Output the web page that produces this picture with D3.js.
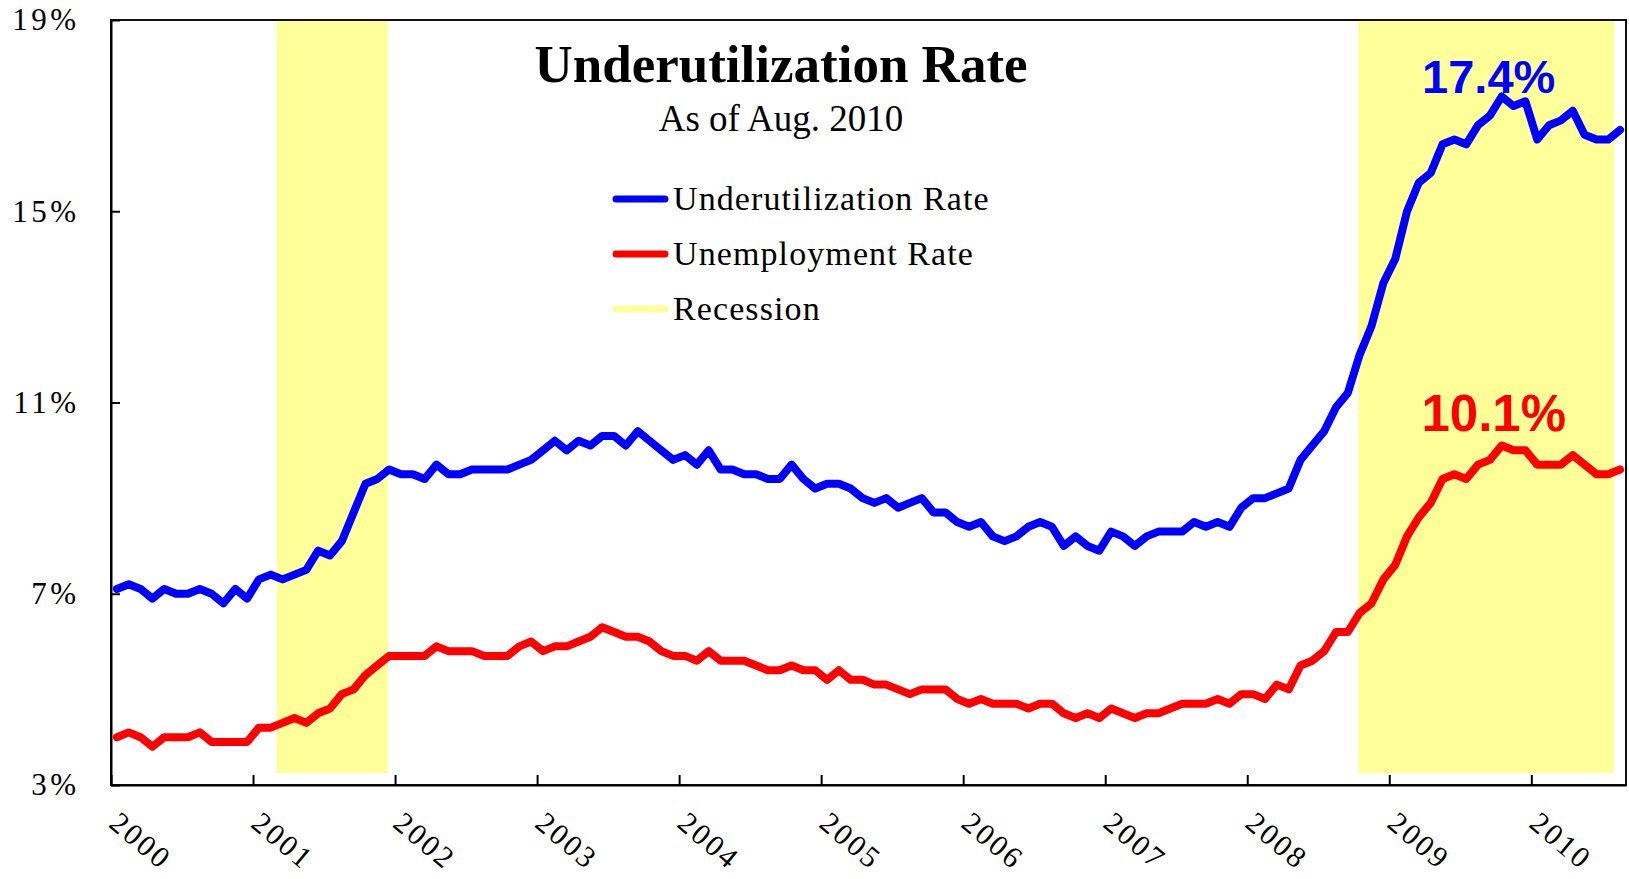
<!DOCTYPE html>
<html>
<head>
<meta charset="utf-8">
<script src="https://cdn.jsdelivr.net/npm/d3@7"></script>
<style>
  body { margin: 0; background: #fff; }
  svg { display: block; }
</style>
</head>
<body>
<div id="container"></div>
<script>
// monthly values, Jan 2000 .. Aug 2010
const underutilization = [
  7.1, 7.2, 7.1, 6.9, 7.1, 7.0, 7.0, 7.1, 7.0, 6.8, 7.1, 6.9,
  7.3, 7.4, 7.3, 7.4, 7.5, 7.9, 7.8, 8.1, 8.7, 9.3, 9.4, 9.6,
  9.5, 9.5, 9.4, 9.7, 9.5, 9.5, 9.6, 9.6, 9.6, 9.6, 9.7, 9.8,
  10.0, 10.2, 10.0, 10.2, 10.1, 10.3, 10.3, 10.1, 10.4, 10.2, 10.0, 9.8,
  9.9, 9.7, 10.0, 9.6, 9.6, 9.5, 9.5, 9.4, 9.4, 9.7, 9.4, 9.2,
  9.3, 9.3, 9.2, 9.0, 8.9, 9.0, 8.8, 8.9, 9.0, 8.7, 8.7, 8.5,
  8.4, 8.5, 8.2, 8.1, 8.2, 8.4, 8.5, 8.4, 8.0, 8.2, 8.0, 7.9,
  8.3, 8.2, 8.0, 8.2, 8.3, 8.3, 8.3, 8.5, 8.4, 8.5, 8.4, 8.8,
  9.0, 9.0, 9.1, 9.2, 9.8, 10.1, 10.4, 10.9, 11.2, 12.0, 12.6, 13.5,
  14.0, 15.0, 15.6, 15.8, 16.4, 16.5, 16.4, 16.8, 17.0, 17.4, 17.2, 17.3,
  16.5, 16.8, 16.9, 17.1, 16.6, 16.5, 16.5, 16.7
];

const unemployment = [
  4.0, 4.1, 4.0, 3.8, 4.0, 4.0, 4.0, 4.1, 3.9, 3.9, 3.9, 3.9,
  4.2, 4.2, 4.3, 4.4, 4.3, 4.5, 4.6, 4.9, 5.0, 5.3, 5.5, 5.7,
  5.7, 5.7, 5.7, 5.9, 5.8, 5.8, 5.8, 5.7, 5.7, 5.7, 5.9, 6.0,
  5.8, 5.9, 5.9, 6.0, 6.1, 6.3, 6.2, 6.1, 6.1, 6.0, 5.8, 5.7,
  5.7, 5.6, 5.8, 5.6, 5.6, 5.6, 5.5, 5.4, 5.4, 5.5, 5.4, 5.4,
  5.2, 5.4, 5.2, 5.2, 5.1, 5.1, 5.0, 4.9, 5.0, 5.0, 5.0, 4.8,
  4.7, 4.8, 4.7, 4.7, 4.7, 4.6, 4.7, 4.7, 4.5, 4.4, 4.5, 4.4,
  4.6, 4.5, 4.4, 4.5, 4.5, 4.6, 4.7, 4.7, 4.7, 4.8, 4.7, 4.9,
  4.9, 4.8, 5.1, 5.0, 5.5, 5.6, 5.8, 6.2, 6.2, 6.6, 6.8, 7.3,
  7.6, 8.2, 8.6, 8.9, 9.4, 9.5, 9.4, 9.7, 9.8, 10.1, 10.0, 10.0,
  9.7, 9.7, 9.7, 9.9, 9.7, 9.5, 9.5, 9.6
];

// recession bands in months from Jan 2000
const recessionStart = [14, 105.4];
const recessionEnd = [23.4, 127];
const recessionFloor = 3.25;

const yearLabels = ["2000", "2001", "2002", "2003", "2004", "2005",
                    "2006", "2007", "2008", "2009", "2010"];
const yTicks = [3, 7, 11, 15, 19];

const seriesNames = ["Underutilization Rate", "Unemployment Rate", "Recession"];
const seriesColors = ["#0000ff", "#ff0000", "#ffff99"];

const serif = "'Liberation Serif', 'Times New Roman', serif";
const sans = "'Liberation Sans', Arial, sans-serif";

const W = 1629, H = 879;
const plot = { left: 111, right: 1626, top: 20, bottom: 785 };

const svg = d3.select("#container").append("svg")
  .attr("width", W)
  .attr("height", H);

const x = d3.scaleLinear().domain([0, 128]).range([plot.left, plot.right]);
const y = d3.scaleLinear().domain([3, 19]).range([plot.bottom, plot.top]);

// recession shading
svg.append("g").selectAll("rect")
  .data(d3.range(recessionStart.length))
  .join("rect")
  .attr("x", i => x(recessionStart[i]))
  .attr("y", y(19))
  .attr("width", i => x(recessionEnd[i]) - x(recessionStart[i]))
  .attr("height", y(recessionFloor) - y(19))
  .attr("fill", seriesColors[2]);

// lines, points sit in the middle of each month
const line = d3.line()
  .x((d, i) => x(i + 0.5))
  .y(d => y(d));

[underutilization, unemployment].forEach((values, k) => {
  svg.append("path")
    .datum(values)
    .attr("d", line)
    .attr("fill", "none")
    .attr("stroke", seriesColors[k])
    .attr("stroke-width", 8)
    .attr("stroke-linejoin", "round")
    .attr("stroke-linecap", "round");
});

// plot frame
svg.append("rect")
  .attr("x", plot.left)
  .attr("y", plot.top)
  .attr("width", plot.right - plot.left)
  .attr("height", plot.bottom - plot.top)
  .attr("fill", "none")
  .attr("stroke", "#111")
  .attr("stroke-width", 2);

// y axis
const yAxis = svg.append("g")
  .attr("transform", `translate(${plot.left},0)`)
  .call(d3.axisLeft(y).tickValues(yTicks).tickSizeInner(-9).tickSizeOuter(0)
    .tickFormat(d => d + "%"));
yAxis.select(".domain").attr("stroke", "#000").attr("stroke-width", 2);
yAxis.selectAll(".tick line").attr("stroke", "#000").attr("stroke-width", 2);
yAxis.selectAll(".tick text")
  .attr("x", -31.5)
  .style("font-family", serif)
  .style("font-size", "31px")
  .style("letter-spacing", "3.5px")
  .style("fill", "#000");

// x axis, one tick per January
const xAxis = svg.append("g")
  .attr("transform", `translate(0,${plot.bottom})`)
  .call(d3.axisBottom(x).tickValues(yearLabels.map((d, i) => i * 12))
    .tickSizeInner(-10).tickSizeOuter(0)
    .tickFormat((d, i) => yearLabels[i]));
xAxis.select(".domain").attr("stroke", "#000").attr("stroke-width", 2);
xAxis.selectAll(".tick line").attr("stroke", "#000").attr("stroke-width", 2);
xAxis.selectAll(".tick text")
  .attr("x", 0)
  .attr("y", 0)
  .attr("dy", null)
  .attr("text-anchor", "start")
  .attr("transform", "translate(-4,41) rotate(40)")
  .style("font-family", serif)
  .style("font-size", "30px")
  .style("letter-spacing", "2.5px")
  .style("fill", "#000");

// title
svg.append("text")
  .attr("x", 781)
  .attr("y", 82)
  .attr("text-anchor", "middle")
  .style("font-family", serif)
  .style("font-weight", "bold")
  .style("font-size", "53px")
  .text("Underutilization Rate");

svg.append("text")
  .attr("x", 781)
  .attr("y", 131)
  .attr("text-anchor", "middle")
  .style("font-family", serif)
  .style("font-size", "37px")
  .text("As of Aug. 2010");

// legend
const legend = svg.append("g").attr("transform", "translate(613,199)");
seriesNames.forEach((name, i) => {
  legend.append("line")
    .attr("x1", 3)
    .attr("x2", 52)
    .attr("y1", i * 55)
    .attr("y2", i * 55)
    .attr("stroke", seriesColors[i])
    .attr("stroke-width", 7)
    .attr("stroke-linecap", "round");
  legend.append("text")
    .attr("x", 60)
    .attr("y", i * 55 + 11)
    .style("font-family", serif)
    .style("font-size", "34px")
    .style("letter-spacing", "1.1px")
    .text(name);
});

// peak annotations
const peaks = [
  { values: underutilization, color: seriesColors[0], size: 47, dx: -13, dy: -4 },
  { values: unemployment, color: seriesColors[1], size: 51, dx: -8, dy: -15 }
];
peaks.forEach(p => {
  const i = d3.maxIndex(p.values);
  svg.append("text")
    .attr("x", x(i + 0.5) + p.dx)
    .attr("y", y(p.values[i]) + p.dy)
    .attr("text-anchor", "middle")
    .style("font-family", sans)
    .style("font-weight", "bold")
    .style("font-size", p.size + "px")
    .style("fill", p.color)
    .text(d3.format(".1f")(p.values[i]) + "%");
});
</script>
</body>
</html>
